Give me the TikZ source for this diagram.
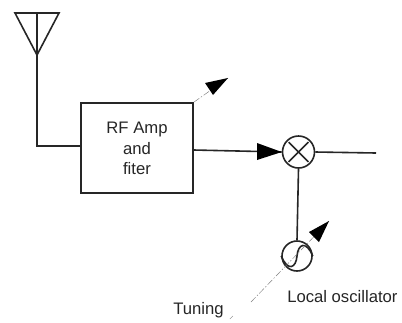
\documentclass[tikz,border=0pt]{standalone}
\usepackage{fontspec}
\setmainfont{Liberation Sans}
\usetikzlibrary{calc}
\begin{document}
\begin{tikzpicture}[x=0.75pt,y=-0.75pt,
  wire/.style={draw=black!85,line width=1.2pt},
  thin dash/.style={draw=black!50,line width=0.35pt,dash pattern=on 5pt off 1.5pt on 1pt off 1.5pt},
  head/.style={fill=black,draw=none},
  lab/.style={font=\fontsize{12.5}{14}\selectfont,text=black!85,inner sep=0pt}]
\useasboundingbox (0,0) rectangle (402,322);
\fill[white] (0,0) rectangle (402,322);
\node[wire,rectangle,minimum width=84pt,minimum height=67.5pt,inner sep=0pt] (box) at (137,148) {};
\node[lab] (t1) at (137,129) {RF Amp};
\node[lab] (t2) at (137,149) {and};
\node[lab] (t3) at (137,169) {fiter};
\node[wire,circle,minimum size=24pt,inner sep=0pt] (mix) at (298.5,152) {};
\node[wire,circle,minimum size=22.5pt,inner sep=0pt] (osc) at (297,256) {};
\coordinate (atop) at (37,13);
\coordinate (atip) at (37,55);
\coordinate (abend) at (37,146);
\coordinate (outend) at (376,153);
\coordinate (boxtip) at (228,78);
\coordinate (osctip) at (329,221);
\coordinate (tun) at (251,302);
% antenna
\draw[wire,line join=miter] (15,13) -- (59,13) -- (atip) -- cycle;
\draw[wire] (atop) -- (atip) -- (abend) -- (box.west |- abend);
% signal path
\draw[wire] (box.east |- 0,150) -- (mix.west);
\fill[head] (mix.west) -- (257,143) -- (257,160) -- cycle;
\draw[wire] (mix.east) -- (outend);
\draw[wire] (mix.south) -- (osc.north);
% mixer cross
\draw[wire] ($(mix.45)+(-2,2)$) -- ($(mix.225)+(2,-2)$);
\draw[wire] ($(mix.135)+(2,2)$) -- ($(mix.315)+(-2,-2)$);
% oscillator sine
\draw[wire] (osc.west) .. controls (288,272) and (296,268) .. (osc.center) .. controls (298,244) and (306,240) .. (osc.east);
% tuning arrows
\draw[thin dash] (box.north east) -- (boxtip);
\fill[head] (boxtip) -- (205,83) -- (213,95) -- cycle;
\draw[thin dash] (tun) -- (osctip);
\fill[head] (osctip) -- (309,232) -- (319,242) -- cycle;
\node[lab,anchor=west] (tuning) at (173,310) {Tuning};
\node[lab,anchor=west] (lo) at (287,297) {Local oscillator};
\draw[thin dash] ($(tuning.east)+(6,9)$) -- ++(3,-3);
\end{tikzpicture}
\end{document}
